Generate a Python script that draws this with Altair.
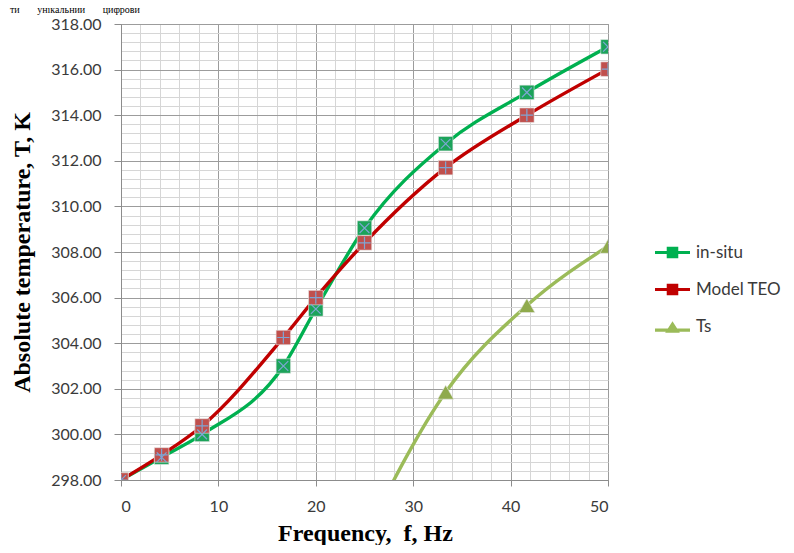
import altair as alt
import pandas as pd

# ---- data ----
freq = [0, 4.17, 8.33, 16.67, 20, 25, 33.33, 41.67, 50]
in_situ = [298.0, 299.0, 300.0, 303.0, 305.5, 309.05, 312.75, 315.0, 317.0]
model_teo = [298.0, 299.1, 300.37, 304.25, 306.0, 308.4, 311.7, 314.0, 316.02]
ts_freq = [25, 33.33, 41.67, 50]
ts_vals = [295.5, 301.85, 305.65, 308.25]

series_names = ["in-situ", "Model TEO", "Ts"]
line_colors = ["#00b050", "#c00000", "#9bbb59"]
marker_colors = ["#1ca35a", "#c0504d", "#8faa4c"]

x_major = [0, 10, 20, 30, 40, 50]
x_minor = [v for v in range(0, 51, 2) if v % 10 != 0]
y_major = list(range(298, 319, 2))
y_minor = [round(298 + 0.4 * i, 1) for i in range(51) if (i % 5) != 0]

top_words = ["ти", "унікальний", "цифрови"]

rows = []
for f, v in zip(freq, in_situ):
    rows.append({"f": f, "T": v, "series": "in-situ"})
for f, v in zip(freq, model_teo):
    rows.append({"f": f, "T": v, "series": "Model TEO"})
for f, v in zip(ts_freq, ts_vals):
    rows.append({"f": f, "T": v, "series": "Ts"})
df = pd.DataFrame(rows)

xs = alt.Scale(domain=[0, 50], nice=False, zero=False)
ys = alt.Scale(domain=[298, 318], nice=False, zero=False)

LABEL_FONT = "Lato"
TITLE_FONT = "Liberation Serif"

# ---- minor grid layer (invisible marks, only an axis grid) ----
minor_x_axis = alt.Axis(orient="bottom", values=x_minor, grid=True, gridColor="#d6d6d6",
                        gridWidth=1, labels=False, ticks=False, domain=False, title=None)
minor_y_axis = alt.Axis(orient="left", values=y_minor, grid=True, gridColor="#d6d6d6",
                        gridWidth=1, labels=False, ticks=False, domain=False, title=None)
grid_layer = alt.Chart(df).mark_point(opacity=0).encode(
    x=alt.X("f:Q", scale=xs, axis=minor_x_axis),
    y=alt.Y("T:Q", scale=ys, axis=minor_y_axis),
)

major_x_axis = alt.Axis(orient="bottom", values=x_major, grid=True, gridColor="#9c9c9c",
                        gridWidth=1, domainColor="#8c8c8c", tickColor="#8c8c8c", tickSize=6,
                        labelFont=LABEL_FONT, labelFontSize=16, labelColor="#3a3a3a",
                        labelPadding=12, title="Frequency,\u00a0 f, Hz", titleFont=TITLE_FONT,
                        titleFontSize=24, titleFontWeight="bold", titleColor="#000000",
                        titleX=244, titleY=53, titleBaseline="middle", titleAlign="center")
major_y_axis = alt.Axis(orient="left", values=y_major, format=".2f", grid=True,
                        gridColor="#9c9c9c", gridWidth=1, domainColor="#8c8c8c",
                        tickColor="#8c8c8c", tickSize=7, labelFont=LABEL_FONT,
                        labelFontSize=16, labelColor="#3a3a3a", labelPadding=13,
                        title="Absolute temperature, T, K", titleFont=TITLE_FONT,
                        titleFontSize=24, titleFontWeight="bold", titleColor="#000000",
                        titleX=-99, titleY=228, titleAngle=-90, titleBaseline="middle",
                        titleAlign="center")

sq_path = ("M-1,-0.09L1,-0.09L1,0.09L-1,0.09Z "
           "M-0.33,-0.33L0.33,-0.33L0.33,0.33L-0.33,0.33Z")
tri_path = ("M-1,0.12L1,0.12L1,0.3L-1,0.3Z "
            "M-0.42,0.36L0,-0.3L0.42,0.36Z")

legend = alt.Legend(
    title=None, orient="none", legendX=534, legendY=211, symbolSize=1225,
    labelFont=LABEL_FONT, labelFontSize=17, labelColor="#3a3a3a", rowPadding=11,
    labelOffset=6, padding=0, symbolStrokeWidth=0, symbolOpacity=1,
    symbolType={"expr": "datum.value === 'Ts' ? '" + tri_path + "' : '" + sq_path + "'"},
    symbolFillColor={"expr": "scale('stroke', datum.value)"},
)

base = alt.Chart(df)

lines = base.mark_line(interpolate="monotone", strokeWidth=3.4, clip=True).encode(
    x=alt.X("f:Q", scale=xs, axis=major_x_axis),
    y=alt.Y("T:Q", scale=ys, axis=major_y_axis),
    stroke=alt.Stroke("series:N", scale=alt.Scale(domain=series_names, range=line_colors),
                      sort=series_names, legend=legend),
)


def pts(name, shape, fill, size):
    return base.transform_filter(alt.datum.series == name).mark_point(
        shape=shape, filled=True, fill=fill, size=size, opacity=1,
        stroke="#e8e8e8", strokeWidth=0.6, clip=True
    ).encode(x=alt.X("f:Q", scale=xs), y=alt.Y("T:Q", scale=ys))


def inner(name, path):
    return base.transform_filter(alt.datum.series == name).mark_point(
        shape=path, filled=False, stroke="#7ea6d4", strokeWidth=1.2, size=150, opacity=1,
        clip=True
    ).encode(x=alt.X("f:Q", scale=xs), y=alt.Y("T:Q", scale=ys))


p_insitu = pts("in-situ", "square", marker_colors[0], 210)
p_model = pts("Model TEO", "square", marker_colors[1], 210)
p_ts = pts("Ts", "triangle-up", marker_colors[2], 260)
x_insitu = inner("in-situ", "M-0.8,-0.8L0.8,0.8M-0.8,0.8L0.8,-0.8")
x_model = inner("Model TEO", "M-1,0L1,0M0,-1L0,1")

main = alt.layer(lines, p_insitu, p_model, p_ts, x_insitu, x_model)

gap = "\u00a0" * 7
top_text = gap.join(top_words)

chart = alt.layer(grid_layer, main).resolve_axis(x="independent", y="independent").properties(
    width=487,
    height=456,
    autosize=alt.AutoSizeParams(type="none"),
    padding={"left": 113, "top": 16, "right": 178, "bottom": 65},
    title=alt.TitleParams(top_text, font=TITLE_FONT, fontSize=10,
                          fontWeight="normal", color="#000000", anchor="start",
                          dx=0, dy=7, offset=0, baseline="alphabetic"),
).configure_view(stroke="#8c8c8c", strokeWidth=1)

chart.save("out.html", embed_options={"renderer": "svg", "actions": False})
